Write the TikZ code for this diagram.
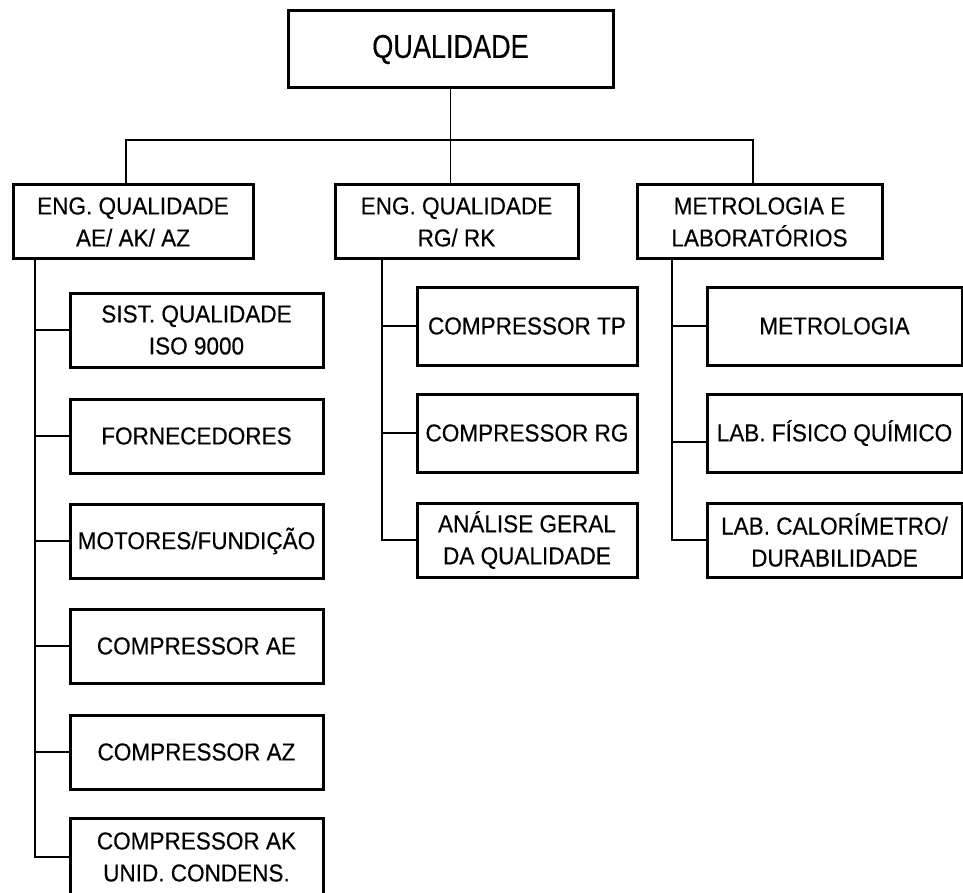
\documentclass[tikz,border=0pt]{standalone}
\usepackage{fontspec}
\setmainfont{Liberation Sans}[FakeStretch=0.92, FakeBold=0.3]
\newfontfamily\titlefont{Liberation Sans}[FakeStretch=0.82, FakeBold=0.3]

\tikzset{
    box/.style={draw, line width=3pt, align=center, inner sep=0pt, font=\fontsize{24.5}{32}\selectfont},
    leftbox/.style={box, minimum width=253pt, minimum height=74pt},
    midbox/.style={box, minimum width=220pt, minimum height=78pt},
    rightbox/.style={box, minimum width=255pt, minimum height=78pt},
    link/.style={line width=1.5pt},
}

\begin{document}
\begin{tikzpicture}[x=1pt, y=-1pt]
    \useasboundingbox (0,0) rectangle (963,893);

    \node[box, minimum width=325pt, minimum height=77pt, font=\titlefont\fontsize{33}{36}\selectfont] (qual) at (450.5,49.5) {QUALIDADE};

    \node[box, minimum width=240pt, minimum height=74pt] (engae) at (133,222) {ENG. QUALIDADE\\AE/ AK/ AZ};
    \node[box, minimum width=243pt, minimum height=74pt] (engrg) at (456.5,222) {ENG. QUALIDADE\\RG/ RK};
    \node[box, minimum width=245pt, minimum height=74pt] (metlab) at (759.5,222) {METROLOGIA E\\LABORATÓRIOS};

    % left column
    \node[leftbox] (sist) at (196.5,330) {SIST. QUALIDADE\\ISO 9000};
    \node[leftbox] (forn) at (196.5,436) {FORNECEDORES};
    \node[leftbox] (motor) at (196.5,541) {MOTORES/FUNDIÇÃO};
    \node[leftbox] (compae) at (196.5,646) {COMPRESSOR AE};
    \node[leftbox] (compaz) at (196.5,752) {COMPRESSOR AZ};
    \node[leftbox, minimum height=78pt] (compak) at (196.5,857) {COMPRESSOR AK\\UNID. CONDENS.};

    % middle column
    \node[midbox] (comptp) at (527,326) {COMPRESSOR TP};
    \node[midbox] (comprg) at (527,433) {COMPRESSOR RG};
    \node[midbox, minimum height=74pt] (analise) at (527,540) {ANÁLISE GERAL\\DA QUALIDADE};

    % right column
    \node[rightbox] (metro) at (834.5,326) {METROLOGIA};
    \node[rightbox] (labfis) at (834.5,433) {LAB. FÍSICO QUÍMICO};
    \node[rightbox, minimum height=74pt] (labcal) at (834.5,540) {LAB. CALORÍMETRO/\\DURABILIDADE};

    % top bus
    \coordinate (busl) at (126,140);
    \coordinate (busr) at (753,140);
    \draw[link] (qual.south) -- (qual.south |- engrg.north);
    \draw[link] (busl |- engae.north) -- (busl) -- (busr) -- (busr |- metlab.north);

    % trunks
    \coordinate (trl) at (35,259);
    \coordinate (trm) at (382,259);
    \coordinate (trr) at (672,259);

    \draw[link] (trl) |- (compak.west);
    \draw[link] (trl |- sist.west) -- (sist.west);
    \draw[link] (trl |- forn.west) -- (forn.west);
    \draw[link] (trl |- motor.west) -- (motor.west);
    \draw[link] (trl |- compae.west) -- (compae.west);
    \draw[link] (trl |- compaz.west) -- (compaz.west);

    \draw[link] (trm) |- (analise.west);
    \draw[link] (trm |- comptp.west) -- (comptp.west);
    \draw[link] (trm |- comprg.west) -- (comprg.west);

    \draw[link] (trr) |- (labcal.west);
    \draw[link] (trr |- metro.west) -- (metro.west);
    \draw[link] (trr |- labfis.west) ++(0,9) -- ([yshift=-9pt]labfis.west);

\end{tikzpicture}
\end{document}
